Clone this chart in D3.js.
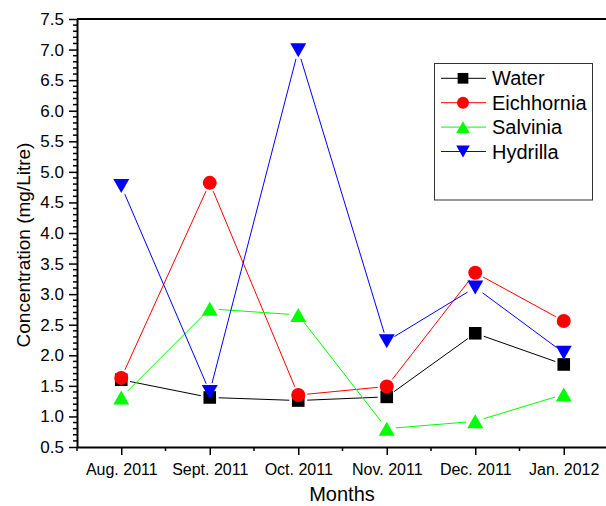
<!DOCTYPE html>
<html>
<head>
<meta charset="utf-8">
<script src="https://cdn.jsdelivr.net/npm/d3@7"></script>
<style>
  html, body { margin: 0; padding: 0; background: #fff; }
  svg { display: block; font-family: "Liberation Sans", Arial, sans-serif; }
</style>
</head>
<body>
<svg id="chart" width="606" height="506"></svg>
<script>
// Monthly concentration readings (mg/Litre)
const months = ["Aug. 2011", "Sept. 2011", "Oct. 2011", "Nov. 2011", "Dec. 2011", "Jan. 2012"];
const water      = [1.60, 1.31, 1.26, 1.32, 2.36, 1.85];
const eichhornia = [1.63, 4.82, 1.35, 1.49, 3.35, 2.56];
const salvinia   = [1.31, 2.76, 2.66, 0.80, 0.92, 1.36];
const hydrilla   = [4.77, 1.40, 6.99, 2.23, 3.11, 2.04];
const yTicks = [0.5, 1.0, 1.5, 2.0, 2.5, 3.0, 3.5, 4.0, 4.5, 5.0, 5.5, 6.0, 6.5, 7.0, 7.5];

const series = [
  { name: "Water",      values: water,      color: "#000000", symbol: "square" },
  { name: "Eichhornia", values: eichhornia, color: "#ff0000", symbol: "circle" },
  { name: "Salvinia",   values: salvinia,   color: "#00ff00", symbol: "triangleUp" },
  { name: "Hydrilla",   values: hydrilla,   color: "#0000ff", symbol: "triangleDown" }
];

const svg = d3.select("#chart");
const plotLeft = 77, plotRight = 608, plotTop = 19, plotBottom = 447;

// Categories sit at 1..6 on a continuous axis running 0.5..6.5
const x = d3.scaleLinear().domain([0.5, 6.5]).range([plotLeft, plotRight]);
const y = d3.scaleLinear().domain([0.5, 7.5]).range([plotBottom, plotTop]);

// Symbol path centred on (0,0)
function symbolPath(type) {
  if (type === "square") { const s = 6.3; return `M${-s},${-s}H${s}V${s}H${-s}Z`; }
  if (type === "circle") { const r = 7; return `M${r},0A${r},${r} 0 1,1 ${-r},0A${r},${r} 0 1,1 ${r},0Z`; }
  if (type === "triangleUp") { return "M0,-7L8,7L-8,7Z"; }
  return "M0,7L8,-7L-8,-7Z";
}

// Minor ticks
const minorY = d3.range(5, 76).map(d => d / 10).filter(v => Math.abs(v * 2 - Math.round(v * 2)) > 1e-6);
svg.append("g").selectAll("line").data(minorY).join("line")
  .attr("x1", plotLeft - 4).attr("x2", plotLeft)
  .attr("y1", d => y(d)).attr("y2", d => y(d))
  .attr("stroke", "#000").attr("stroke-width", 1.5);
const minorX = [0.5, 1.5, 2.5, 3.5, 4.5, 5.5, 6.5];
svg.append("g").selectAll("line").data(minorX).join("line")
  .attr("x1", d => x(d)).attr("x2", d => x(d))
  .attr("y1", plotBottom).attr("y2", plotBottom + 4)
  .attr("stroke", "#000").attr("stroke-width", 1.5);

// Y axis
const yAxis = svg.append("g").attr("transform", `translate(${plotLeft},0)`)
  .call(d3.axisLeft(y).tickValues(yTicks).tickFormat(d3.format(".1f")).tickSizeInner(8).tickSizeOuter(0).tickPadding(5));
yAxis.select(".domain").attr("stroke-width", 2);
yAxis.selectAll(".tick line").attr("stroke-width", 1.5);
yAxis.selectAll(".tick text").attr("font-size", 17).attr("fill", "#000")
  .style("font-family", "'Liberation Sans', Arial, sans-serif");

// X axis
const xAxis = svg.append("g").attr("transform", `translate(0,${plotBottom})`)
  .call(d3.axisBottom(x).tickValues(d3.range(1, 7)).tickFormat(d => months[d - 1]).tickSizeInner(8).tickSizeOuter(0).tickPadding(9));
xAxis.select(".domain").attr("stroke-width", 2);
xAxis.selectAll(".tick line").attr("stroke-width", 1.5);
xAxis.selectAll(".tick text").attr("font-size", 16).attr("fill", "#000")
  .style("font-family", "'Liberation Sans', Arial, sans-serif");

// Top frame line
svg.append("line").attr("x1", plotLeft).attr("x2", 606).attr("y1", plotTop).attr("y2", plotTop)
  .attr("stroke", "#000").attr("stroke-width", 2);

// Axis titles
svg.append("text").attr("x", 342).attr("y", 501).attr("text-anchor", "middle")
  .attr("font-size", 20).text("Months");
svg.append("text").attr("transform", "translate(30,245) rotate(-90)").attr("text-anchor", "middle")
  .attr("font-size", 19).text("Concentration (mg/Litre)");

// Series: line segments stop short of each symbol
const gap = 9;
series.forEach(s => {
  const pts = s.values.map((v, i) => [x(i + 1), y(v)]);
  const segs = d3.pairs(pts).map(([a, b]) => {
    const dx = b[0] - a[0], dy = b[1] - a[1], len = Math.hypot(dx, dy);
    const ux = dx / len, uy = dy / len;
    return [a[0] + ux * gap, a[1] + uy * gap, b[0] - ux * gap, b[1] - uy * gap];
  });
  const g = svg.append("g");
  g.selectAll("line").data(segs).join("line")
    .attr("x1", d => d[0]).attr("y1", d => d[1]).attr("x2", d => d[2]).attr("y2", d => d[3])
    .attr("stroke", s.color).attr("stroke-width", 1);
  g.selectAll("path").data(pts).join("path")
    .attr("d", symbolPath(s.symbol))
    .attr("transform", d => `translate(${d[0]},${d[1]})`)
    .attr("fill", s.color);
});

// Legend
const lg = svg.append("g");
lg.append("rect").attr("x", 434.5).attr("y", 63.5).attr("width", 158).attr("height", 136.5)
  .attr("fill", "#fff").attr("stroke", "#333").attr("stroke-width", 1);
series.forEach((s, i) => {
  const cy = 78.3 + i * 24.4;
  lg.append("line").attr("x1", 441).attr("x2", 486).attr("y1", cy).attr("y2", cy)
    .attr("stroke", s.color).attr("stroke-width", 1);
  lg.append("path").attr("d", symbolPath(s.symbol))
    .attr("transform", `translate(463,${cy}) scale(0.85)`).attr("fill", s.color);
  lg.append("text").attr("x", 492).attr("y", cy + 7).attr("font-size", 20).text(s.name);
});
</script>
</body>
</html>
